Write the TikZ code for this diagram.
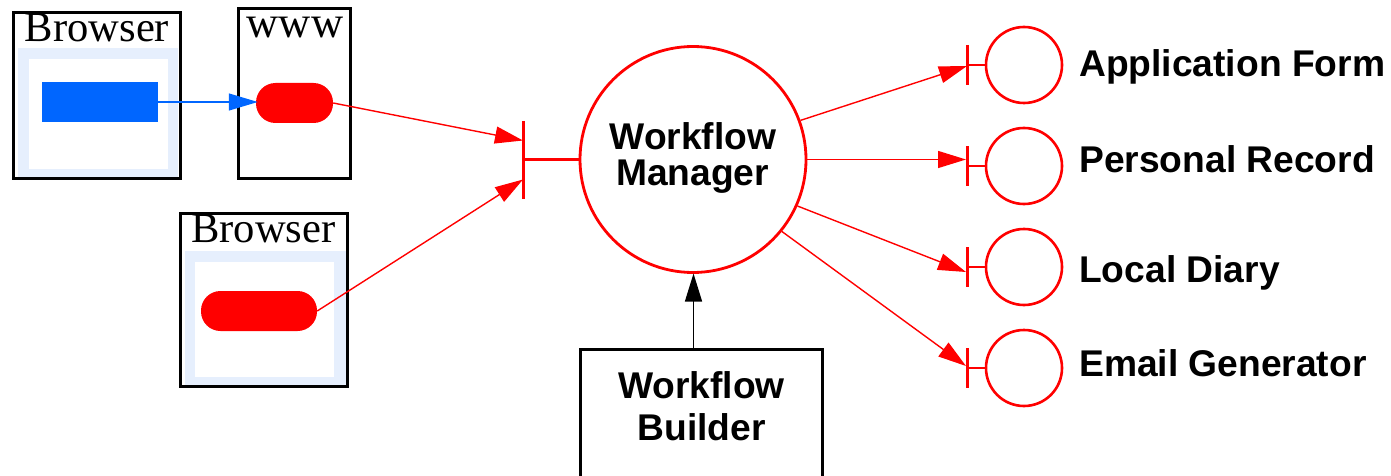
\documentclass[tikz,border=0pt]{standalone}
\usepackage{fontspec}
\setmainfont{Liberation Serif}
\setsansfont{Liberation Sans}
\usetikzlibrary{arrows.meta}
\definecolor{panelblue}{HTML}{E6EFFD}
\definecolor{barblue}{HTML}{0066FF}
\tikzset{
  x=1pt,y=-1pt,
  frame/.style={draw=black,line width=3pt,fill=none,rectangle,inner sep=0pt},
  panel/.style={fill=panelblue},
  paper/.style={fill=white},
  bluebar/.style={fill=barblue,rectangle,inner sep=0pt,minimum width=116.5pt,minimum height=40pt},
  pill/.style={fill=red,rectangle,rounded corners=19.5pt,inner sep=0pt,minimum height=40pt},
  mgr/.style={draw=red,line width=2.8pt,circle,inner sep=0pt,minimum size=226pt},
  port/.style={draw=red,line width=2.6pt,circle,inner sep=0pt,minimum size=76pt},
  tbar/.style={draw=red,line width=2.4pt},
  redarrow/.style={draw=red,line width=1.4pt,-{Triangle[length=28pt,width=17pt,fill=red]}},
  bluearrow/.style={draw=barblue,line width=1.2pt,-{Triangle[length=29pt,width=17pt,fill=barblue]}},
  blackarrow/.style={draw=black,line width=1.4pt,-{Triangle[length=28pt,width=17pt,fill=black]}},
  serif/.style={font=\fontsize{42.6}{42}\selectfont,inner sep=0pt,text=black},
  wwwfont/.style={font=\fontsize{44.5}{42}\selectfont,inner sep=0pt,text=black},
  bold/.style={font=\sffamily\bfseries\fontsize{37.2}{42}\selectfont,inner sep=0pt,align=center,text=black},
}
\begin{document}
\begin{tikzpicture}
\useasboundingbox (0,0) rectangle (1391,476);
\clip (0,0) rectangle (1391,476);
% browser 1
\fill[panel] (18,48) rectangle (178,177);
\fill[paper] (29,59) rectangle (168,169);
\node[frame,minimum width=166.5pt,minimum height=166pt] (b1) at (97,95.7) {};
\node[serif,anchor=base] (b1t) at (97,42) {Browser};
\node[bluebar] (bar) at (99.75,102) {};
% www
\node[frame,minimum width=112.5pt,minimum height=169.7pt] (w) at (294.5,93.8) {};
\node[wwwfont,anchor=base] (wt) at (295,37.5) {www};
\node[pill,minimum width=77pt] (wp) at (294.5,103) {};
% browser 2
\fill[panel] (184.5,251) rectangle (346,385);
\fill[paper] (195,261.5) rectangle (334,376.5);
\node[frame,minimum width=167pt,minimum height=173pt] (b2) at (263.5,299.8) {};
\node[serif,anchor=base] (b2t) at (263.5,242) {Browser};
\node[pill,minimum width=116pt] (bp) at (259,311) {};
% manager
\node[mgr] (m) at (693,159.5) {};
\node[bold,anchor=base] (mt) at (693,149) {Workflow};
\node[bold,anchor=base] (mt2) at (692.5,185) {Manager};
% ports
\foreach \n/\y in {a/65,b/166,c/267,d/368}{
  \node[port] (p\n) at (1024,\y) {};
  \coordinate (t\n) at (967.5,\y);
  \coordinate (t\n u) at (967.5,\y-20);
  \coordinate (t\n d) at (967.5,\y+20);
  \draw[tbar] (t\n u) -- (t\n d);
  \draw[tbar] (t\n) -- (p\n.west);
}
\node[bold,anchor=base west] (la) at (1079,76.5) {Application Form};
\node[bold,anchor=base west] (lb) at (1079,172) {Personal Record};
\node[bold,anchor=base west] (lc) at (1079,282) {Local Diary};
\node[bold,anchor=base west] (ld) at (1079,376) {Email Generator};
% manager port
\coordinate (mt0) at (523.5,159.5);
\coordinate (mtu) at (523.5,121);
\coordinate (mtd) at (523.5,199);
\coordinate (mtai) at (523,140.5);
\coordinate (mtbi) at (523,179.5);
\draw[tbar] (mtu) -- (mtd);
\draw[tbar] (mt0) -- (m.west |- mt0);
% builder
\node[frame,minimum width=241.6pt,minimum height=150pt] (wb) at (701.5,424) {};
\node[bold,anchor=base] (wbt) at (701.5,398) {Workflow};
\node[bold,anchor=base] (wbt2) at (701.5,440) {Builder};
% connectors
\coordinate (atip) at (967,66);
\coordinate (btip) at (966,159.5);
\coordinate (ctip) at (966,272);
\coordinate (dtip) at (966,366);
\coordinate (wptip) at ([xshift=2pt]wp.west);
\draw[bluearrow] (bar.east) -- (bar.east -| wptip);
\draw[redarrow] (wp.east) -- (mtai);
\draw[redarrow] (bp.east) -- (mtbi);
\draw[redarrow] (m.20) -- (atip);
\draw[redarrow] (m.0) -- (btip);
\draw[redarrow] (m.-24) -- (ctip);
\draw[redarrow] (m.-39) -- (dtip);
\coordinate (wbtop) at (693.5,349);
\coordinate (mbot) at (693.5,273.5);
\draw[blackarrow] (wbtop) -- (mbot);
\end{tikzpicture}
\end{document}
